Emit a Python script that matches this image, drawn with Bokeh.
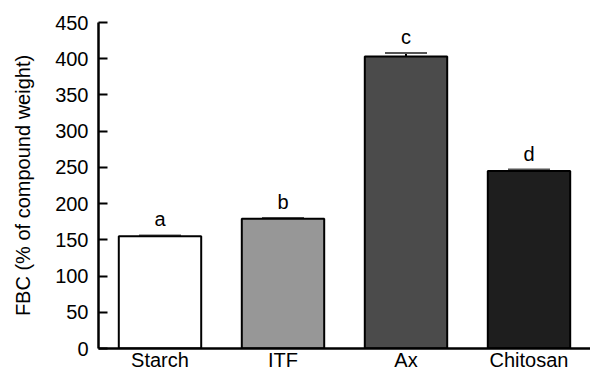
from bokeh.plotting import figure
from bokeh.models import ColumnDataSource, Range1d, FactorRange, FixedTicker, Whisker, TeeHead
from bokeh.core.properties import value
from bokeh.embed import file_html
from bokeh.resources import INLINE

# data
categories = ["Starch", "ITF", "Ax", "Chitosan"]
fbc_values = [155, 179, 403, 245]
fbc_errors = [1, 1, 5, 2]
letters = ["a", "b", "c", "d"]
y_ticks = [0, 50, 100, 150, 200, 250, 300, 350, 400, 450]

# styles
bar_colors = ["#ffffff", "#979797", "#4b4b4b", "#1e1e1e"]
FONT = "Liberation Sans"
FS = "20px"

upper = [v + e for v, e in zip(fbc_values, fbc_errors)]
src = ColumnDataSource(dict(cats=categories, values=fbc_values, upper=upper,
                            letters=letters, colors=bar_colors))

p = figure(width=590, height=373, x_range=FactorRange(factors=categories),
           y_range=Range1d(0, 450), output_backend="svg", toolbar_location=None,
           min_border_left=98, min_border_top=22, min_border_right=0, min_border_bottom=10)
p.x_range.range_padding = 0

p.outline_line_color = None
p.xgrid.grid_line_color = None
p.ygrid.grid_line_color = None
p.background_fill_color = "white"
p.border_fill_color = "white"

w = Whisker(source=src, base="cats", upper="upper", lower="values",
            line_color="black", line_width=2, lower_head=None,
            upper_head=TeeHead(size=42, line_color="#555555", line_width=2))
p.add_layout(w)

p.vbar(x="cats", top="values", width=0.67, source=src, fill_color="colors",
       line_color="black", line_width=2)

p.text(x="cats", y="upper", text="letters", source=src, y_offset=-16,
       text_align="center", text_baseline="alphabetic",
       text_font=value(FONT), text_font_size=FS, text_color="black")

ya = p.yaxis[0]
ya.ticker = FixedTicker(ticks=y_ticks)
ya.minor_tick_line_color = None
ya.major_tick_in = 9
ya.major_tick_out = 0
ya.major_tick_line_width = 2
ya.axis_line_width = 2.5
ya.axis_line_color = "black"
ya.major_tick_line_color = "black"
ya.major_label_text_color = "black"
ya.major_label_text_font = FONT
ya.major_label_text_font_size = FS
ya.major_label_standoff = 10
ya.axis_label = "FBC (% of compound weight)"
ya.axis_label_text_font = FONT
ya.axis_label_text_font_size = FS
ya.axis_label_text_color = "black"
ya.axis_label_text_font_style = "normal"
ya.axis_label_standoff = 18

xa = p.xaxis[0]
xa.major_tick_in = 0
xa.major_tick_out = 0
xa.minor_tick_line_color = None
xa.axis_line_width = 2.5
xa.axis_line_color = "black"
xa.major_label_text_color = "black"
xa.major_label_text_font = FONT
xa.major_label_text_font_size = FS
xa.major_label_standoff = 0

open("out.html", "w").write(file_html(p, INLINE))
